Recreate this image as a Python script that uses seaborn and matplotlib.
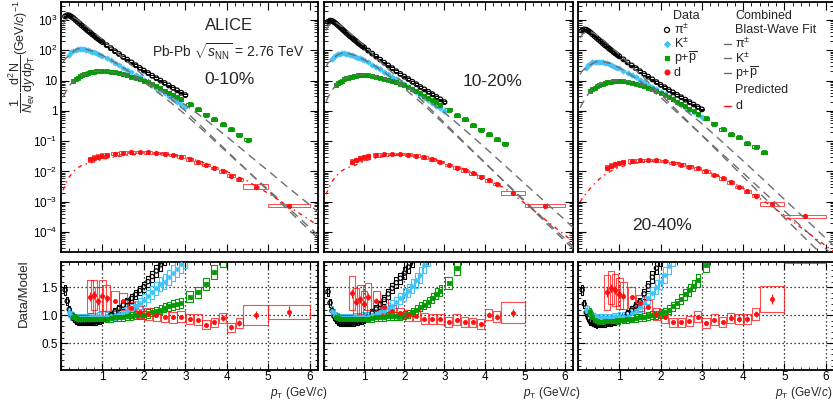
import numpy as np
import matplotlib
matplotlib.use("Agg")
import matplotlib.pyplot as plt
from matplotlib.patches import Rectangle
from matplotlib.collections import PatchCollection
from matplotlib.ticker import (FixedLocator, MultipleLocator, LogLocator,
                               FuncFormatter, NullFormatter)
import seaborn as sns

sns.set_theme(style="ticks")
plt.rcParams["font.family"] = ["Liberation Sans", "DejaVu Sans"]
plt.rcParams["mathtext.fontset"] = "custom"
plt.rcParams["mathtext.rm"] = "Liberation Sans"
plt.rcParams["mathtext.it"] = "Liberation Sans:italic"
plt.rcParams["mathtext.bf"] = "Liberation Sans:bold"
plt.rcParams["mathtext.sf"] = "Liberation Sans"

# ---------------------------------------------------------------- data
centralities = ["0-10%", "10-20%", "20-40%"]

# transverse-momentum bins (GeV/c)
pion_pt = [0.10, 0.15, 0.20, 0.25, 0.30, 0.35, 0.40, 0.45, 0.50, 0.55, 0.60, 0.65,
           0.70, 0.75, 0.80, 0.85, 0.90, 0.95, 1.00, 1.10, 1.20, 1.30, 1.40, 1.50,
           1.60, 1.70, 1.80, 1.90, 2.00, 2.10, 2.20, 2.30, 2.40, 2.50, 2.60, 2.70,
           2.80, 2.90, 3.00]
kaon_pt = [0.20, 0.25, 0.30, 0.35, 0.40, 0.45, 0.50, 0.55, 0.60, 0.65, 0.70, 0.75,
           0.80, 0.85, 0.90, 0.95, 1.00, 1.10, 1.20, 1.30, 1.40, 1.50, 1.60, 1.70,
           1.80, 1.90, 2.00, 2.10, 2.20, 2.30, 2.40, 2.50, 2.60, 2.70, 2.80, 2.90,
           3.00]
proton_pt = [0.30, 0.35, 0.40, 0.45, 0.50, 0.55, 0.60, 0.65, 0.70, 0.75, 0.80, 0.85,
             0.90, 0.95, 1.00, 1.10, 1.20, 1.30, 1.40, 1.50, 1.60, 1.70, 1.80, 1.90,
             2.00, 2.10, 2.20, 2.30, 2.40, 2.50, 2.60, 2.70, 2.80, 2.90, 3.10, 3.30,
             3.50, 3.70, 3.90, 4.10, 4.30, 4.50]
deut_pt = [0.7, 0.8, 0.9, 1.0, 1.1, 1.3, 1.5, 1.7, 1.9, 2.1, 2.3, 2.5, 2.7, 2.9,
           3.1, 3.3, 3.5, 3.7, 3.9, 4.1, 4.3, 4.7, 5.5]
deut_bin_halfwidth = [0.05, 0.05, 0.05, 0.05, 0.05, 0.09, 0.09, 0.09, 0.09, 0.09,
                      0.09, 0.09, 0.09, 0.09, 0.09, 0.09, 0.09, 0.09, 0.09, 0.09,
                      0.09, 0.30, 0.50]

# log10 of 1/Nev d2N/(dy dpT)
pion_0_10 = [3.12, 3.16, 3.15, 3.11, 3.06, 3.00, 2.94, 2.88, 2.82, 2.76, 2.70, 2.64,
             2.59, 2.53, 2.48, 2.42, 2.37, 2.32, 2.27, 2.17, 2.07, 1.97, 1.88, 1.78,
             1.69, 1.60, 1.51, 1.42, 1.33, 1.25, 1.16, 1.08, 1.00, 0.92, 0.84, 0.76,
             0.68, 0.60, 0.52]
pion_10_20 = [2.94, 2.98, 2.97, 2.93, 2.88, 2.82, 2.76, 2.70, 2.64, 2.58, 2.52, 2.46,
              2.41, 2.35, 2.30, 2.24, 2.19, 2.14, 2.09, 1.99, 1.89, 1.79, 1.69, 1.59,
              1.50, 1.41, 1.31, 1.22, 1.13, 1.05, 0.96, 0.88, 0.79, 0.71, 0.63, 0.55,
              0.46, 0.38, 0.29]
pion_20_40 = [2.65, 2.69, 2.68, 2.64, 2.59, 2.53, 2.47, 2.41, 2.35, 2.29, 2.23, 2.17,
              2.12, 2.06, 2.01, 1.95, 1.90, 1.85, 1.80, 1.70, 1.60, 1.50, 1.41, 1.31,
              1.22, 1.13, 1.04, 0.95, 0.86, 0.78, 0.69, 0.61, 0.53, 0.45, 0.37, 0.29,
              0.21, 0.13, 0.05]
kaon_0_10 = [1.85, 1.93, 1.98, 2.01, 2.03, 2.04, 2.04, 2.03, 2.02, 2.00, 1.98, 1.95,
             1.93, 1.90, 1.87, 1.84, 1.81, 1.74, 1.67, 1.59, 1.51, 1.43, 1.35, 1.27,
             1.19, 1.11, 1.03, 0.94, 0.85, 0.76, 0.67, 0.58, 0.49, 0.40, 0.31, 0.22,
             0.13]
kaon_10_20 = [1.71, 1.79, 1.84, 1.87, 1.89, 1.90, 1.90, 1.89, 1.88, 1.86, 1.84, 1.81,
              1.79, 1.76, 1.73, 1.70, 1.67, 1.60, 1.53, 1.45, 1.37, 1.29, 1.21, 1.13,
              1.05, 0.97, 0.89, 0.80, 0.71, 0.62, 0.53, 0.44, 0.35, 0.26, 0.17, 0.08,
              -0.01]
kaon_20_40 = [1.43, 1.51, 1.56, 1.60, 1.62, 1.63, 1.63, 1.62, 1.61, 1.59, 1.57, 1.54,
              1.52, 1.49, 1.46, 1.43, 1.40, 1.33, 1.26, 1.19, 1.11, 1.03, 0.95, 0.87,
              0.79, 0.71, 0.63, 0.55, 0.46, 0.38, 0.29, 0.21, 0.12, 0.04, -0.05, -0.13,
              -0.21]
proton_0_10 = [1.00, 1.06, 1.10, 1.14, 1.18, 1.21, 1.23, 1.25, 1.27, 1.29, 1.30, 1.31,
               1.31, 1.32, 1.32, 1.31, 1.30, 1.27, 1.24, 1.21, 1.17, 1.13, 1.09, 1.04,
               1.00, 0.94, 0.88, 0.81, 0.74, 0.67, 0.60, 0.53, 0.46, 0.39, 0.22, 0.05,
               -0.12, -0.28, -0.44, -0.61, -0.79, -0.96]
proton_10_20 = [0.86, 0.92, 0.96, 1.00, 1.04, 1.07, 1.09, 1.11, 1.13, 1.15, 1.16, 1.17,
                1.17, 1.18, 1.18, 1.17, 1.16, 1.13, 1.10, 1.06, 1.02, 0.98, 0.94, 0.90,
                0.86, 0.79, 0.72, 0.65, 0.58, 0.50, 0.43, 0.35, 0.28, 0.20, 0.03, -0.14,
                -0.27, -0.47, -0.63, -0.77, -0.94, -1.08]
proton_20_40 = [0.67, 0.73, 0.77, 0.81, 0.85, 0.88, 0.90, 0.92, 0.94, 0.96, 0.97, 0.98,
                0.98, 0.99, 0.99, 0.98, 0.96, 0.93, 0.90, 0.86, 0.82, 0.77, 0.72, 0.66,
                0.60, 0.53, 0.46, 0.38, 0.31, 0.23, 0.15, 0.07, -0.01, -0.09, -0.25,
                -0.43, -0.61, -0.77, -0.87, -1.07, -1.18, -1.37]
deut_0_10 = [-1.60, -1.55, -1.51, -1.48, -1.46, -1.41, -1.38, -1.36, -1.36, -1.37,
             -1.39, -1.41, -1.46, -1.51, -1.60, -1.70, -1.79, -1.89, -2.00, -2.14,
             -2.26, -2.50, -3.13]
deut_10_20 = [-1.68, -1.62, -1.57, -1.53, -1.50, -1.46, -1.43, -1.42, -1.42, -1.44,
              -1.48, -1.53, -1.60, -1.69, -1.78, -1.87, -1.96, -2.06, -2.17, -2.29,
              -2.41, -2.72, -3.13]
deut_20_40 = [-1.87, -1.81, -1.76, -1.72, -1.69, -1.65, -1.63, -1.62, -1.63, -1.66,
              -1.72, -1.77, -1.84, -1.90, -2.00, -2.11, -2.23, -2.36, -2.51, -2.66,
              -2.80, -3.08, -3.47]
deut_sys = [0.22, 0.20, 0.20, 0.20, 0.18, 0.14, 0.12, 0.10, 0.10, 0.10, 0.10, 0.10,
            0.10, 0.10, 0.10, 0.10, 0.10, 0.10, 0.10, 0.10, 0.10, 0.18, 0.12]
deut_stat = [0.06, 0.05, 0.05, 0.05, 0.05, 0.03, 0.03, 0.03, 0.03, 0.03, 0.03, 0.03,
             0.03, 0.03, 0.03, 0.04, 0.04, 0.04, 0.05, 0.05, 0.06, 0.07, 0.09]

# combined blast-wave fit curves and predicted deuteron spectrum (log10)
model_pt = [0.05, 0.1, 0.2, 0.3, 0.4, 0.5, 0.6, 0.8, 1.0, 1.2, 1.5, 2.0, 2.5, 3.0,
            3.5, 4.0, 4.5, 5.0, 5.5, 6.0, 6.2]
bw_pion_0_10 = [2.85, 2.97, 3.10, 3.09, 3.01, 2.91, 2.81, 2.58, 2.35, 2.10, 1.75, 1.15,
                0.57, 0.00, -0.66, -1.32, -1.98, -2.64, -3.30, -3.95, -4.20]
bw_kaon_0_10 = [1.60, 1.72, 1.83, 1.96, 2.05, 2.06, 2.04, 1.95, 1.83, 1.68, 1.43, 0.95,
                0.44, -0.12, -0.73, -1.36, -1.98, -2.60, -3.22, -3.85, -4.10]
bw_proton_0_10 = [0.45, 0.60, 0.83, 0.98, 1.09, 1.17, 1.23, 1.30, 1.32, 1.30, 1.20,
                  0.98, 0.62, 0.20, -0.30, -0.85, -1.42, -1.98, -2.55, -3.10, -3.33]
pred_deut_0_10 = [-2.62, -2.45, -2.18, -2.00, -1.88, -1.80, -1.75, -1.68, -1.60, -1.54,
                  -1.48, -1.41, -1.41, -1.52, -1.73, -2.00, -2.32, -2.72, -3.16, -3.60,
                  -3.78]
bw_pion_10_20 = [2.65, 2.78, 2.92, 2.91, 2.83, 2.72, 2.62, 2.39, 2.15, 1.90, 1.50, 0.90,
                 0.26, -0.39, -1.05, -1.70, -2.36, -3.00, -3.66, -4.30, -4.55]
bw_kaon_10_20 = [1.45, 1.58, 1.69, 1.81, 1.89, 1.92, 1.90, 1.82, 1.69, 1.54, 1.28, 0.74,
                 0.18, -0.45, -1.08, -1.71, -2.34, -2.97, -3.60, -4.22, -4.47]
bw_proton_10_20 = [0.30, 0.45, 0.68, 0.86, 0.97, 1.05, 1.11, 1.18, 1.20, 1.17, 1.07,
                   0.84, 0.44, -0.06, -0.62, -1.20, -1.80, -2.40, -3.00, -3.60, -3.85]
pred_deut_10_20 = [-2.75, -2.60, -2.33, -2.15, -2.02, -1.93, -1.87, -1.78, -1.66, -1.58,
                   -1.50, -1.44, -1.50, -1.70, -1.92, -2.22, -2.55, -3.05, -3.58, -4.10,
                   -4.32]
bw_pion_20_40 = [2.40, 2.52, 2.62, 2.61, 2.55, 2.46, 2.36, 2.12, 1.86, 1.60, 1.22, 0.55,
                 -0.13, -0.81, -1.49, -2.17, -2.85, -3.53, -4.20, -4.87, -5.10]
bw_kaon_20_40 = [1.20, 1.32, 1.42, 1.52, 1.60, 1.64, 1.63, 1.56, 1.42, 1.26, 0.98, 0.45,
                 -0.18, -0.80, -1.43, -2.05, -2.68, -3.30, -3.93, -4.55, -4.80]
bw_proton_20_40 = [0.10, 0.23, 0.47, 0.64, 0.77, 0.87, 0.93, 1.00, 1.02, 0.98, 0.88,
                   0.59, 0.13, -0.42, -1.03, -1.65, -2.28, -2.92, -3.56, -4.20, -4.45]
pred_deut_20_40 = [-3.00, -2.90, -2.72, -2.55, -2.40, -2.27, -2.15, -1.98, -1.86, -1.78,
                   -1.70, -1.64, -1.72, -1.93, -2.20, -2.56, -2.97, -3.45, -3.95, -4.45,
                   -4.65]

# data / model
rpion_0_10 = [1.45, 1.25, 1.10, 1.00, 0.94, 0.90, 0.88, 0.87, 0.87, 0.87, 0.87, 0.87,
              0.87, 0.87, 0.88, 0.88, 0.89, 0.90, 0.91, 0.95, 1.00, 1.06, 1.12, 1.18,
              1.24, 1.30, 1.37, 1.44, 1.51, 1.60, 1.69, 1.79, 1.90, 2.02, 2.15, 2.30,
              2.45, 2.60, 2.80]
rpion_10_20 = [1.42, 1.22, 1.08, 0.98, 0.92, 0.88, 0.86, 0.85, 0.85, 0.85, 0.85, 0.85,
               0.86, 0.86, 0.87, 0.88, 0.89, 0.90, 0.91, 0.97, 1.04, 1.11, 1.19, 1.28,
               1.38, 1.48, 1.58, 1.66, 1.75, 1.86, 1.97, 2.10, 2.25, 2.40, 2.55, 2.70,
               2.90, 3.10, 3.30]
rpion_20_40 = [1.45, 1.20, 1.05, 0.95, 0.88, 0.85, 0.83, 0.82, 0.83, 0.83, 0.84, 0.84,
               0.85, 0.85, 0.86, 0.87, 0.88, 0.90, 0.92, 0.97, 1.03, 1.09, 1.16, 1.24,
               1.38, 1.52, 1.68, 1.84, 2.00, 2.20, 2.40, 2.60, 2.80, 3.00, 3.20, 3.40,
               3.60, 3.80, 4.00]
rkaon_0_10 = [1.06, 1.00, 0.97, 0.95, 0.95, 0.95, 0.95, 0.95, 0.95, 0.95, 0.96, 0.96,
              0.96, 0.96, 0.97, 0.97, 0.97, 0.98, 0.99, 1.00, 1.02, 1.04, 1.07, 1.11,
              1.16, 1.21, 1.27, 1.34, 1.41, 1.48, 1.55, 1.60, 1.68, 1.76, 1.82, 1.91,
              2.00]
rkaon_10_20 = [1.07, 1.03, 0.98, 0.96, 0.95, 0.95, 0.95, 0.95, 0.95, 0.95, 0.95, 0.96,
               0.96, 0.96, 0.96, 0.97, 0.97, 0.98, 1.00, 1.02, 1.05, 1.08, 1.12, 1.17,
               1.23, 1.30, 1.37, 1.44, 1.52, 1.62, 1.72, 1.90, 2.05, 2.20, 2.35, 2.50,
               2.65]
rkaon_20_40 = [1.10, 1.08, 1.02, 0.98, 0.96, 0.95, 0.95, 0.95, 0.95, 0.95, 0.95, 0.95,
               0.95, 0.96, 0.96, 0.96, 0.97, 0.98, 0.99, 1.03, 1.08, 1.14, 1.22, 1.30,
               1.40, 1.50, 1.60, 1.72, 1.88, 2.05, 2.20, 2.40, 2.60, 2.80, 3.00, 3.20,
               3.40]
rproton_0_10 = [0.97, 0.95, 0.94, 0.93, 0.93, 0.93, 0.93, 0.93, 0.93, 0.93, 0.93, 0.93,
                0.93, 0.94, 0.94, 0.94, 0.95, 0.96, 0.97, 0.97, 0.98, 0.99, 1.00, 1.00,
                1.01, 1.03, 1.05, 1.07, 1.10, 1.13, 1.16, 1.18, 1.20, 1.22, 1.33, 1.41,
                1.56, 1.77, 2.00, 2.30, 2.60, 2.90]
rproton_10_20 = [0.97, 0.95, 0.94, 0.93, 0.93, 0.93, 0.93, 0.93, 0.93, 0.93, 0.93, 0.93,
                 0.93, 0.94, 0.94, 0.94, 0.95, 0.96, 0.96, 0.97, 0.98, 0.98, 0.99, 0.99,
                 1.00, 1.02, 1.05, 1.10, 1.15, 1.19, 1.24, 1.31, 1.38, 1.44, 1.58, 1.85,
                 2.10, 2.40, 2.70, 3.00, 3.30, 3.60]
rproton_20_40 = [1.05, 0.97, 0.92, 0.89, 0.88, 0.88, 0.88, 0.89, 0.89, 0.89, 0.90, 0.90,
                 0.90, 0.91, 0.91, 0.92, 0.93, 0.94, 0.95, 0.96, 0.97, 0.98, 1.00, 1.01,
                 1.03, 1.06, 1.10, 1.16, 1.21, 1.29, 1.37, 1.45, 1.53, 1.62, 1.90, 2.20,
                 2.50, 2.80, 3.10, 3.40, 3.70, 4.00]
rdeut_0_10 = [1.33, 1.36, 1.25, 1.35, 1.30, 1.25, 1.25, 1.12, 1.05, 1.02, 1.00, 0.97,
              0.96, 0.97, 0.93, 0.92, 0.83, 0.87, 0.95, 0.78, 0.86, 1.00, 1.06]
rdeut_10_20 = [1.39, 1.24, 1.28, 1.20, 1.33, 1.26, 1.15, 1.08, 1.03, 1.00, 0.99, 0.94,
               0.93, 0.93, 0.88, 0.92, 0.88, 0.87, 0.84, 1.01, 0.97, 1.04, 2.40]
rdeut_20_40 = [1.41, 1.49, 1.45, 1.38, 1.35, 1.32, 1.22, 1.15, 1.02, 0.96, 0.87, 0.87,
               0.89, 0.97, 0.86, 0.92, 0.88, 0.95, 0.93, 0.93, 1.02, 1.29, 2.20]

# relative systematic uncertainties (spectra, ratio)
spec_sys = {"pion": 0.06, "kaon": 0.08, "proton": 0.12}
ratio_sys = {"pion": 0.06, "kaon": 0.08, "proton": 0.07}

spectra = {
    "0-10%": {"pion": pion_0_10, "kaon": kaon_0_10, "proton": proton_0_10, "deut": deut_0_10},
    "10-20%": {"pion": pion_10_20, "kaon": kaon_10_20, "proton": proton_10_20, "deut": deut_10_20},
    "20-40%": {"pion": pion_20_40, "kaon": kaon_20_40, "proton": proton_20_40, "deut": deut_20_40},
}
models = {
    "0-10%": {"pion": bw_pion_0_10, "kaon": bw_kaon_0_10, "proton": bw_proton_0_10, "deut": pred_deut_0_10},
    "10-20%": {"pion": bw_pion_10_20, "kaon": bw_kaon_10_20, "proton": bw_proton_10_20, "deut": pred_deut_10_20},
    "20-40%": {"pion": bw_pion_20_40, "kaon": bw_kaon_20_40, "proton": bw_proton_20_40, "deut": pred_deut_20_40},
}
ratios = {
    "0-10%": {"pion": rpion_0_10, "kaon": rkaon_0_10, "proton": rproton_0_10, "deut": rdeut_0_10},
    "10-20%": {"pion": rpion_10_20, "kaon": rkaon_10_20, "proton": rproton_10_20, "deut": rdeut_10_20},
    "20-40%": {"pion": rpion_20_40, "kaon": rkaon_20_40, "proton": rproton_20_40, "deut": rdeut_20_40},
}
pts = {"pion": pion_pt, "kaon": kaon_pt, "proton": proton_pt, "deut": deut_pt}

# ---------------------------------------------------------------- style
COL = {"pion": "black", "kaon": "#45c2f4", "proton": "#079a07", "deut": "#ff1010"}
MARK = {"pion": "o", "kaon": "D", "proton": "s", "deut": "o"}
SIZE = {"pion": 11, "kaon": 7, "proton": 10, "deut": 10}
FIT_COL = "#6e6e6e"
ORDER = ["pion", "kaon", "proton", "deut"]

W, H = 833, 401
fig = plt.figure(figsize=(W / 100, H / 100), dpi=100)


def add_axes_px(x0, x1, ytop, ybot):
    return fig.add_axes([x0 / W, (H - ybot) / H, (x1 - x0) / W, (ybot - ytop) / H])


def halfwidths(species, pt):
    pt = np.asarray(pt)
    if species == "deut":
        return np.asarray(deut_bin_halfwidth)
    return np.where(pt <= 1.0, 0.022, np.where(pt <= 3.0, 0.045, 0.075))


def draw_boxes(ax, x, y, hw, rel, color, lw=0.7, alpha=1.0, z=2):
    rects = [Rectangle((xi - wi, yi / (1 + ri)), 2 * wi, yi * (1 + ri) - yi / (1 + ri))
             for xi, yi, wi, ri in zip(x, y, hw, rel)]
    pc = PatchCollection(rects, facecolor="none", edgecolor=color, linewidth=lw,
                         alpha=alpha, zorder=z)
    ax.add_collection(pc)


def draw_points(ax, x, y, species, scale=1.0, z=3):
    sns.scatterplot(x=x, y=y, ax=ax, marker=MARK[species], s=SIZE[species] * scale,
                    color=COL[species], edgecolor=COL[species], linewidth=0.6,
                    legend=False, zorder=z)
    if species == "pion":
        ax.collections[-1].set_facecolor("none")
        ax.collections[-1].set_linewidth(0.9)


def frame(ax):
    for s in ax.spines.values():
        s.set_linewidth(1.3)
        s.set_color("black")
    ax.tick_params(which="both", direction="in", top=True, right=True,
                   colors="black", labelsize=8.5, pad=2.5)
    ax.set_xlim(0, 6.2)
    ax.xaxis.set_major_locator(FixedLocator([0, 1, 2, 3, 4, 5, 6]))
    ax.xaxis.set_minor_locator(MultipleLocator(0.2))


def log_label(v, pos):
    e = int(round(np.log10(v)))
    if e == 0:
        return "1"
    if e == 1:
        return "10"
    return r"$10^{%d}$" % e


panel_x = [(61, 318), (324, 573), (578, 834)]
top_y = (2, 252)
bot_y = (262, 370)

for i, cent in enumerate(centralities):
    x0, x1 = panel_x[i]
    ax = add_axes_px(x0, x1, *top_y)
    axr = add_axes_px(x0, x1, *bot_y)

    # ---- spectra
    ax.set_yscale("log")
    for sp in ORDER:
        x = np.asarray(pts[sp])
        y = 10.0 ** np.asarray(spectra[cent][sp])
        hw = halfwidths(sp, x)
        rel = np.asarray(deut_sys) if sp == "deut" else np.full(len(x), spec_sys[sp])
        draw_boxes(ax, x, y, hw, rel, COL[sp], lw=0.7,
                   alpha=0.75 if sp == "deut" else 1.0)
        draw_points(ax, x, y, sp)
    for sp in ["pion", "kaon", "proton"]:
        sns.lineplot(x=model_pt, y=10.0 ** np.asarray(models[cent][sp]), ax=ax,
                     color=FIT_COL, lw=1.0, linestyle=(0, (6, 4)), sort=False,
                     estimator=None, zorder=4)
    sns.lineplot(x=model_pt, y=10.0 ** np.asarray(models[cent]["deut"]), ax=ax,
                 color=COL["deut"], lw=1.0, linestyle=(0, (3, 3, 1, 3)), sort=False,
                 estimator=None, zorder=4)

    frame(ax)
    ax.set_ylim(10 ** -4.657, 10 ** 3.594)
    ax.yaxis.set_major_locator(LogLocator(base=10, numticks=20))
    ax.yaxis.set_minor_locator(LogLocator(base=10, subs=np.arange(2, 10), numticks=20))
    ax.yaxis.set_minor_formatter(NullFormatter())
    ax.tick_params(which="major", length=5.5, width=0.8)
    ax.tick_params(which="minor", length=2.8, width=0.6)
    ax.tick_params(labelbottom=False)
    if i == 0:
        ax.yaxis.set_major_formatter(FuncFormatter(log_label))
    else:
        ax.yaxis.set_major_formatter(NullFormatter())
    ax.set_xlabel("")
    ax.set_ylabel("")

    # ---- ratios
    for sp in ORDER:
        x = np.asarray(pts[sp])
        r = np.asarray(ratios[cent][sp])
        hw = halfwidths(sp, x)
        if sp == "deut":
            hw = np.where(x < 4.5, np.maximum(hw, 0.08), hw)
            rel = np.asarray(deut_sys)
        else:
            rel = np.full(len(x), ratio_sys[sp])
        rects = [Rectangle((xi - wi, ri * (1 - si)), 2 * wi, 2 * ri * si)
                 for xi, ri, wi, si in zip(x, r, hw, rel)]
        axr.add_collection(PatchCollection(rects, facecolor="none", edgecolor=COL[sp],
                                           linewidth=0.8,
                                           alpha=0.75 if sp == "deut" else 1.0,
                                           zorder=2))
        if sp == "deut":
            st = np.asarray(deut_stat)
            axr.vlines(x, r * (1 - st), r * (1 + st), color=COL[sp], lw=0.8, zorder=3)
        draw_points(axr, x, r, sp, scale=0.85)

    frame(axr)
    axr.set_ylim(0.02, 1.95)
    axr.yaxis.set_major_locator(FixedLocator([0.5, 1.0, 1.5]))
    axr.yaxis.set_minor_locator(MultipleLocator(0.1))
    axr.tick_params(which="major", length=5, width=0.8)
    axr.tick_params(which="minor", length=2.5, width=0.6)
    axr.tick_params(axis="x", pad=1.0)
    axr.xaxis.set_major_formatter(FuncFormatter(lambda v, p: "" if v == 0 else "%d" % v))
    if i == 0:
        axr.yaxis.set_major_formatter(FuncFormatter(lambda v, p: "%.1f" % v))
    else:
        axr.yaxis.set_major_formatter(NullFormatter())
    axr.grid(True, which="major", linestyle=(0, (1, 2.2)), color="black", lw=0.9)
    axr.set_xlabel("")
    axr.set_ylabel("")

    # centrality and pT labels
    lx, lha = [(270, "left"), (523, "left"), (832, "right")][i]
    fig.text(lx / W, 1 - 393 / H, r"$p_{\rm T}$ (GeV/$c$)",
             fontsize=8.5, ha=lha, va="center")
    cx, cy = [(229.5, 80), (492.5, 81), (662, 226)][i]
    fig.text(cx / W, 1 - cy / H, cent, fontsize=12.5, ha="center", va="center")

    if i == 2:
        # legend
        def fx(px):
            return (px - x0) / (x1 - x0)

        def fy(py):
            return (top_y[1] - py) / (top_y[1] - top_y[0])

        rows = [16, 30, 44, 58.5, 72.5]
        ax.text(fx(673), fy(rows[0]), "Data", transform=ax.transAxes, fontsize=9,
                va="center", ha="left")
        labels_l = ["π$^{\\pm}$", "K$^{\\pm}$", r"p+$\overline{\rm p}$", "d"]
        for j, sp in enumerate(ORDER):
            ax.scatter([fx(667)], [fy(rows[j + 1])], transform=ax.transAxes,
                       marker=MARK[sp], s=SIZE[sp] * 1.2,
                       facecolor="none" if sp == "pion" else COL[sp],
                       edgecolor=COL[sp], linewidth=0.9, clip_on=False, zorder=5)
            ax.text(fx(674), fy(rows[j + 1]), labels_l[j], transform=ax.transAxes,
                    fontsize=9, va="center", ha="left")
        ax.text(fx(735), fy(16), "Combined", transform=ax.transAxes, fontsize=9,
                va="center", ha="left")
        ax.text(fx(735), fy(30), "Blast-Wave Fit", transform=ax.transAxes, fontsize=9,
                va="center", ha="left")
        labels_r = ["π$^{\\pm}$", "K$^{\\pm}$", r"p+$\overline{\rm p}$"]
        for j, yy in enumerate([44, 58.5, 73]):
            ax.plot([fx(724), fx(731)], [fy(yy), fy(yy)], transform=ax.transAxes,
                    color=FIT_COL, lw=1.0, clip_on=False)
            ax.text(fx(735), fy(yy), labels_r[j], transform=ax.transAxes, fontsize=9,
                    va="center", ha="left")
        ax.text(fx(735), fy(90), "Predicted", transform=ax.transAxes, fontsize=9,
                va="center", ha="left")
        ax.plot([fx(724), fx(731)], [fy(106), fy(106)], transform=ax.transAxes,
                color=COL["deut"], lw=1.0, clip_on=False)
        ax.text(fx(735), fy(106), "d", transform=ax.transAxes, fontsize=9,
                va="center", ha="left")

# experiment / system labels
fig.text(229 / W, 1 - 26 / H, "ALICE", fontsize=12, ha="center", va="center")
fig.text(228 / W, 1 - 52 / H, r"Pb-Pb $\sqrt{s_{\rm NN}}$ = 2.76 TeV", fontsize=10,
         ha="center", va="center")

# axis titles
fig.text(22 / W, 1 - 57 / H,
         r"$\dfrac{1}{N_{\rm ev}}\,\dfrac{{\rm d}^{2}{\rm N}}{{\rm d}y\,{\rm d}p_{\rm T}}$(GeV/$c$)$^{-1}$",
         rotation=90, fontsize=9, ha="center", va="center")
fig.text(24 / W, 1 - 293 / H, "Data/Model", rotation=90, fontsize=9.5,
         ha="center", va="center")

fig.savefig("out.png", dpi=100)
